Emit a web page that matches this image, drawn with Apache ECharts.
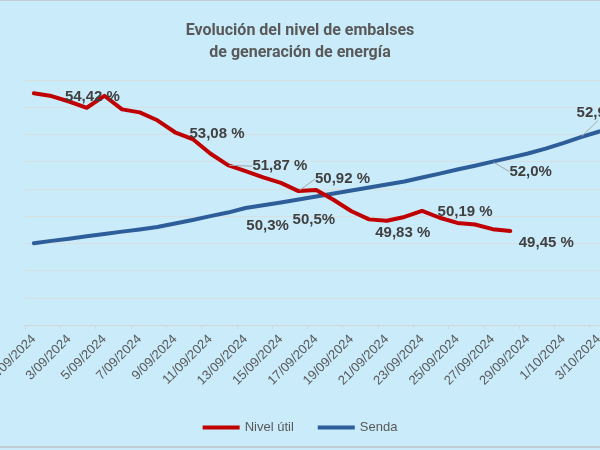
<!DOCTYPE html>
<html><head><meta charset="utf-8">
<script src="https://cdn.jsdelivr.net/npm/echarts@6/dist/echarts.min.js"></script>
<style>html,body{margin:0;padding:0;background:#c9ebfa}#c{width:600px;height:450px}</style>
</head><body><div id="c"></div>
<script>
const categories = [
  '1/09/2024','2/09/2024','3/09/2024','4/09/2024','5/09/2024','6/09/2024','7/09/2024','8/09/2024','9/09/2024','10/09/2024',
  '11/09/2024','12/09/2024','13/09/2024','14/09/2024','15/09/2024','16/09/2024','17/09/2024','18/09/2024','19/09/2024','20/09/2024',
  '21/09/2024','22/09/2024','23/09/2024','24/09/2024','25/09/2024','26/09/2024','27/09/2024','28/09/2024','29/09/2024','30/09/2024',
  '1/10/2024','2/10/2024','3/10/2024','4/10/2024'
];
const nivelUtil = [54.51, 54.41, 54.21, 53.98, 54.42, 53.92, 53.81, 53.52, 53.08, 52.83,
  52.30, 51.87, 51.65, 51.42, 51.22, 50.92, 50.96, 50.59, 50.18, 49.88,
  49.83, 49.97, 50.19, 49.94, 49.75, 49.69, 49.52, 49.45];
const senda = [49.00, 49.09, 49.17, 49.26, 49.34, 49.43, 49.51, 49.60, 49.73, 49.86,
  50.00, 50.13, 50.3, 50.40, 50.5, 50.61, 50.72, 50.83, 50.94, 51.05,
  51.16, 51.27, 51.42, 51.56, 51.71, 51.85, 52.0, 52.15, 52.3, 52.48,
  52.68, 52.9, 53.1, 53.3];
const nivelLabelIdx = [4, 8, 11, 15, 20, 22, 27];
const sendaLabelIdx = [12, 14, 26, 31];

// label placement (dx, dy from point to label centre) and leader lines
const nivelLabelPos = {4:[-12,1,false], 8:[42,2,false], 11:[52,1,true], 15:[44,-12,true], 20:[16,12,false], 22:[43,1,false], 27:[36,12,false]};
const sendaLabelPos = {12:[22,18,false], 14:[33,17,false], 26:[38,10,true], 31:[17,-24,true]};

function buildData(vals, idxs, pos){
  return vals.map((v,i)=>{
    if (idxs.indexOf(i) < 0) return v;
    return {value: v, label: {show: true}, labelLine: {show: pos[i][2]}};
  });
}
function layoutFor(pos){
  return function(p){
    const o = pos[p.dataIndex];
    if (!o) return {};
    const cx = p.rect.x + p.rect.width/2;
    const cy = p.rect.y + p.rect.height/2;
    const lx = p.labelRect.x + p.labelRect.width/2;
    const ly = p.labelRect.y + p.labelRect.height/2;
    return {dx: cx + o[0] - lx, dy: cy + o[1] - ly};
  };
}
const labelFont = {fontFamily: "'Liberation Sans', Arial, sans-serif", fontSize: 15, fontWeight: 'bold', color: '#404040'};

const chart = echarts.init(document.getElementById('c'), null, {renderer: 'canvas'});
chart.setOption({
  animation: false,
  backgroundColor: '#c9ebfa',
  title: {
    text: 'Evolución del nivel de embalses\nde generación de energía',
    left: 'center', top: 15,
    textStyle: {fontFamily: "Roboto, 'Liberation Sans', sans-serif", fontSize: 16, fontWeight: 'bold', color: '#595959', lineHeight: 22}
  },
  legend: {
    left: 'center', top: 416,
    icon: 'rect', itemWidth: 37, itemHeight: 4, itemGap: 24,
    textStyle: {fontFamily: "'Liberation Sans', Arial, sans-serif", fontSize: 13, color: '#595959'},
    data: ['Nivel útil', 'Senda']
  },
  grid: {left: 25, top: 80, width: 600, height: 245, containLabel: false, outerBoundsMode: 'none'},
  xAxis: {
    type: 'category', data: categories, boundaryGap: true,
    axisLine: {lineStyle: {color: '#d0d8dc', width: 1}},
    axisTick: {show: true, interval: 1, length: 4, lineStyle: {color: '#d0d8dc'}},
    axisLabel: {interval: 1, rotate: 45, margin: 12, fontFamily: "'Liberation Sans', Arial, sans-serif", fontSize: 13, color: '#595959'}
  },
  yAxis: {
    type: 'value', min: 46, max: 55, interval: 1,
    axisLabel: {show: false}, axisLine: {show: false}, axisTick: {show: false},
    splitLine: {lineStyle: {color: '#d7dfe3', width: 1}}
  },
  graphic: [{type: 'rect', shape: {x: -5, y: 0, width: 610, height: 447}, style: {fill: 'none', stroke: '#c3ccd3', lineWidth: 2}, silent: true}],
  series: [
    {
      name: 'Nivel útil', type: 'line', data: buildData(nivelUtil, nivelLabelIdx, nivelLabelPos),
      symbol: 'circle', symbolSize: 2, showSymbol: true,
      itemStyle: {color: '#c00000'},
      lineStyle: {color: '#c00000', width: 4, join: 'round', cap: 'round'},
      label: {show: false, position: 'inside', formatter: p => p.value.toFixed(2).replace('.', ',') + ' %', ...labelFont},
      labelLine: {show: false, lineStyle: {color: '#a6a6a6', width: 1}},
      labelLayout: layoutFor(nivelLabelPos),
      z: 3
    },
    {
      name: 'Senda', type: 'line', data: buildData(senda, sendaLabelIdx, sendaLabelPos),
      symbol: 'circle', symbolSize: 2, showSymbol: true,
      itemStyle: {color: '#2e5e9a'},
      lineStyle: {color: '#2e5e9a', width: 4, join: 'round', cap: 'round'},
      label: {show: false, position: 'inside', formatter: p => p.value.toFixed(1).replace('.', ',') + '%', ...labelFont},
      labelLine: {show: false, lineStyle: {color: '#a6a6a6', width: 1}},
      labelLayout: layoutFor(sendaLabelPos),
      z: 2
    }
  ]
});
</script></body></html>
